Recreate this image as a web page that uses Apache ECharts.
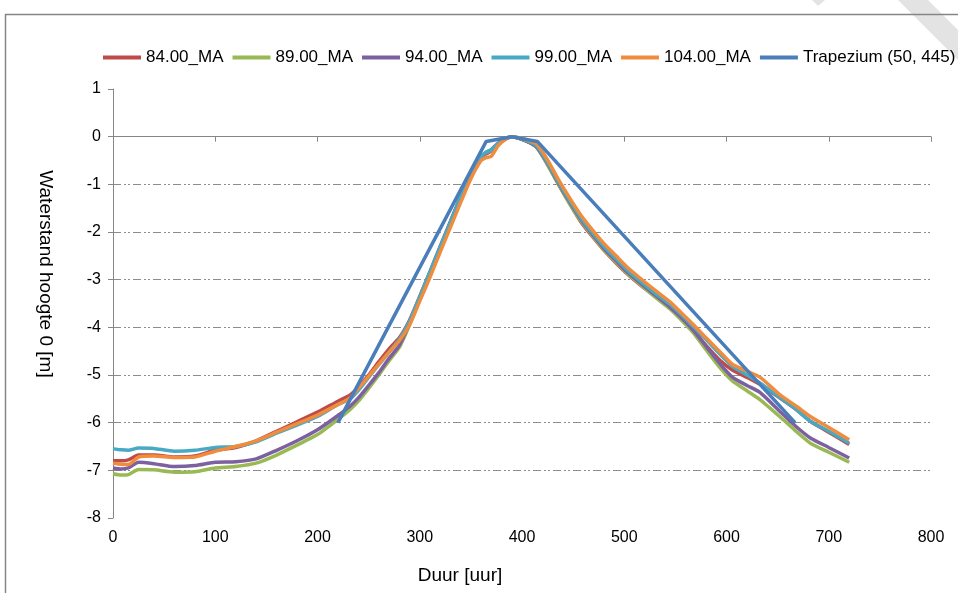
<!DOCTYPE html>
<html>
<head>
<meta charset="utf-8">
<script src="https://cdn.jsdelivr.net/npm/echarts@6/dist/echarts.min.js"></script>
<style>
  html, body { margin: 0; padding: 0; background: #fff; }
  #chart { width: 958px; height: 593px; }
</style>
</head>
<body>
<div id="chart"></div>
<script>
// uren (gedeeld door de 5 MA reeksen)
var hours = [0, 8, 15, 25, 40, 60, 80, 100, 120, 140, 160, 180, 200, 220, 232,
  240, 250, 260, 270, 280, 290, 300, 310, 320, 330, 340, 350, 360,
  365, 370, 377, 385, 390, 395, 405, 414,
  424, 437, 447, 458, 469, 480, 492, 503, 515, 530, 545, 556, 567, 580, 593, 606, 620, 633, 652, 668, 682, 700, 720];

var ma84 = [-6.80, -6.80, -6.78, -6.68, -6.68, -6.72, -6.70, -6.58, -6.52, -6.38, -6.18, -5.98, -5.78, -5.55, -5.42,
  -5.25, -5.00, -4.72, -4.45, -4.22, -3.85, -3.35, -2.83, -2.30, -1.78, -1.25, -0.75, -0.45,
  -0.36, -0.30, -0.15, -0.04, 0, -0.02, -0.10, -0.20,
  -0.55, -1.05, -1.42, -1.80, -2.10, -2.38, -2.65, -2.88, -3.10, -3.35, -3.60, -3.82, -4.05, -4.38, -4.68, -4.90, -5.05, -5.20, -5.48, -5.72, -5.97, -6.20, -6.46];

var ma89 = [-7.07, -7.10, -7.09, -6.98, -6.99, -7.04, -7.03, -6.95, -6.92, -6.85, -6.68, -6.47, -6.25, -5.93, -5.72,
  -5.55, -5.28, -5.00, -4.70, -4.42, -3.95, -3.42, -2.88, -2.34, -1.81, -1.28, -0.77, -0.44,
  -0.34, -0.28, -0.14, -0.03, 0, -0.02, -0.10, -0.22,
  -0.55, -1.05, -1.42, -1.78, -2.08, -2.37, -2.63, -2.87, -3.09, -3.36, -3.62, -3.85, -4.10, -4.47, -4.83, -5.13, -5.33, -5.52, -5.87, -6.18, -6.43, -6.62, -6.83];

var ma94 = [-6.95, -6.97, -6.95, -6.83, -6.86, -6.92, -6.90, -6.83, -6.82, -6.76, -6.58, -6.38, -6.15, -5.85, -5.65,
  -5.48, -5.22, -4.95, -4.65, -4.38, -3.92, -3.40, -2.87, -2.33, -1.80, -1.27, -0.76, -0.43,
  -0.33, -0.27, -0.13, -0.03, 0, -0.02, -0.10, -0.21,
  -0.52, -1.02, -1.38, -1.75, -2.05, -2.34, -2.60, -2.84, -3.06, -3.32, -3.58, -3.80, -4.05, -4.40, -4.75, -5.05, -5.22, -5.37, -5.76, -6.08, -6.32, -6.52, -6.74];

var ma99 = [-6.55, -6.57, -6.58, -6.53, -6.54, -6.60, -6.58, -6.52, -6.50, -6.40, -6.22, -6.05, -5.87, -5.62, -5.50,
  -5.32, -5.05, -4.78, -4.52, -4.25, -3.87, -3.36, -2.84, -2.31, -1.79, -1.26, -0.76, -0.42,
  -0.32, -0.28, -0.14, -0.03, 0, -0.02, -0.09, -0.19,
  -0.50, -1.00, -1.35, -1.72, -2.02, -2.30, -2.56, -2.80, -3.02, -3.28, -3.52, -3.74, -3.97, -4.25, -4.55, -4.82, -5.00, -5.17, -5.47, -5.72, -5.97, -6.18, -6.43];

var ma104 = [-6.85, -6.87, -6.88, -6.72, -6.70, -6.73, -6.72, -6.60, -6.50, -6.38, -6.20, -6.02, -5.84, -5.62, -5.48,
  -5.28, -5.03, -4.77, -4.52, -4.28, -3.95, -3.45, -2.95, -2.42, -1.90, -1.38, -0.88, -0.50,
  -0.44, -0.41, -0.18, -0.04, 0, -0.01, -0.07, -0.15,
  -0.45, -0.95, -1.30, -1.66, -1.96, -2.24, -2.50, -2.74, -2.96, -3.22, -3.47, -3.70, -3.93, -4.22, -4.50, -4.78, -4.92, -5.05, -5.41, -5.65, -5.87, -6.10, -6.36];

// trapezium (50, 445)
var trapHours = [220, 365, 390, 415, 667];
var trapValues = [-6, -0.1, 0, -0.1, -6];

var seriesNames = ['84.00_MA', '89.00_MA', '94.00_MA', '99.00_MA', '104.00_MA', 'Trapezium (50, 445)'];
var seriesColors = ['#BE4B48', '#98B954', '#7D60A0', '#46AAC5', '#F08C3E', '#4A7EBB'];

function zip(xs, ys) {
  var out = [];
  for (var i = 0; i < xs.length; i++) out.push([xs[i], ys[i]]);
  return out;
}

var allData = [
  zip(hours, ma84), zip(hours, ma89), zip(hours, ma94),
  zip(hours, ma99), zip(hours, ma104), zip(trapHours, trapValues)
];

var font = 'Liberation Sans';
var gridDash = [8, 3, 2, 2, 2, 3];

var chart = echarts.init(document.getElementById('chart'), null, { renderer: 'canvas' });

var series = [];
for (var i = 0; i < allData.length; i++) {
  series.push({
    name: seriesNames[i],
    type: 'line',
    data: allData[i],
    showSymbol: false,
    symbol: 'none',
    smooth: i < 5 ? 0.2 : false,
    lineStyle: { color: seriesColors[i], width: 3.5 },
    itemStyle: { color: seriesColors[i] },
    emphasis: { disabled: true },
    z: 2 + i
  });
}

var option = {
  animation: false,
  backgroundColor: '#fff',
  textStyle: { fontFamily: font },
  color: seriesColors,
  legend: {
    data: seriesNames,
    left: 98,
    top: 44,
    width: 860,
    icon: 'rect',
    itemWidth: 38,
    itemHeight: 4,
    itemGap: 9,
    textStyle: { fontFamily: font, fontSize: 17, color: '#000' }
  },
  grid: { left: 113, right: 27, top: 89, bottom: 75 },
  xAxis: {
    type: 'value',
    min: 0,
    max: 800,
    interval: 100,
    axisLine: { lineStyle: { color: '#868686', width: 1 } },
    axisTick: { show: true, length: 5, lineStyle: { color: '#868686' } },
    axisLabel: { fontFamily: font, fontSize: 16, color: '#000', margin: 12 },
    splitLine: { show: false }
  },
  yAxis: {
    type: 'value',
    min: -8,
    max: 1,
    interval: 1,
    axisLine: { show: true, lineStyle: { color: '#868686', width: 1 } },
    axisTick: { show: true, length: 5, lineStyle: { color: '#868686' } },
    axisLabel: { fontFamily: font, fontSize: 16, color: '#000', margin: 12 },
    splitLine: {
      show: true,
      showMinLine: false,
      showMaxLine: false,
      lineStyle: { color: '#8c8c8c', width: 1, type: gridDash }
    }
  },
  graphic: [
    { type: 'rect', shape: { x: 5.5, y: 14.5, width: 1000, height: 1000 },
      style: { fill: 'none', stroke: '#868686', lineWidth: 1.5 }, silent: true },
    { type: 'polygon', shape: { points: [[898, 0], [928, 0], [958, 30], [958, 60]] },
      style: { fill: '#e3e3e3' }, silent: true, z: -1 },
    { type: 'polygon', shape: { points: [[812, 0], [825, 0], [818, 6]] },
      style: { fill: '#e3e3e3' }, silent: true, z: -1 },
    { type: 'text', x: 460, y: 576,
      style: { text: 'Duur [uur]', fontFamily: font, fontSize: 19, fill: '#000', align: 'center', verticalAlign: 'middle' } },
    { type: 'text', x: 45, y: 274, rotation: -Math.PI / 2,
      style: { text: 'Waterstand hoogte 0 [m]', fontFamily: font, fontSize: 19, fill: '#000', align: 'center', verticalAlign: 'middle' } }
  ],
  series: series
};

chart.setOption(option);
</script>
</body>
</html>
